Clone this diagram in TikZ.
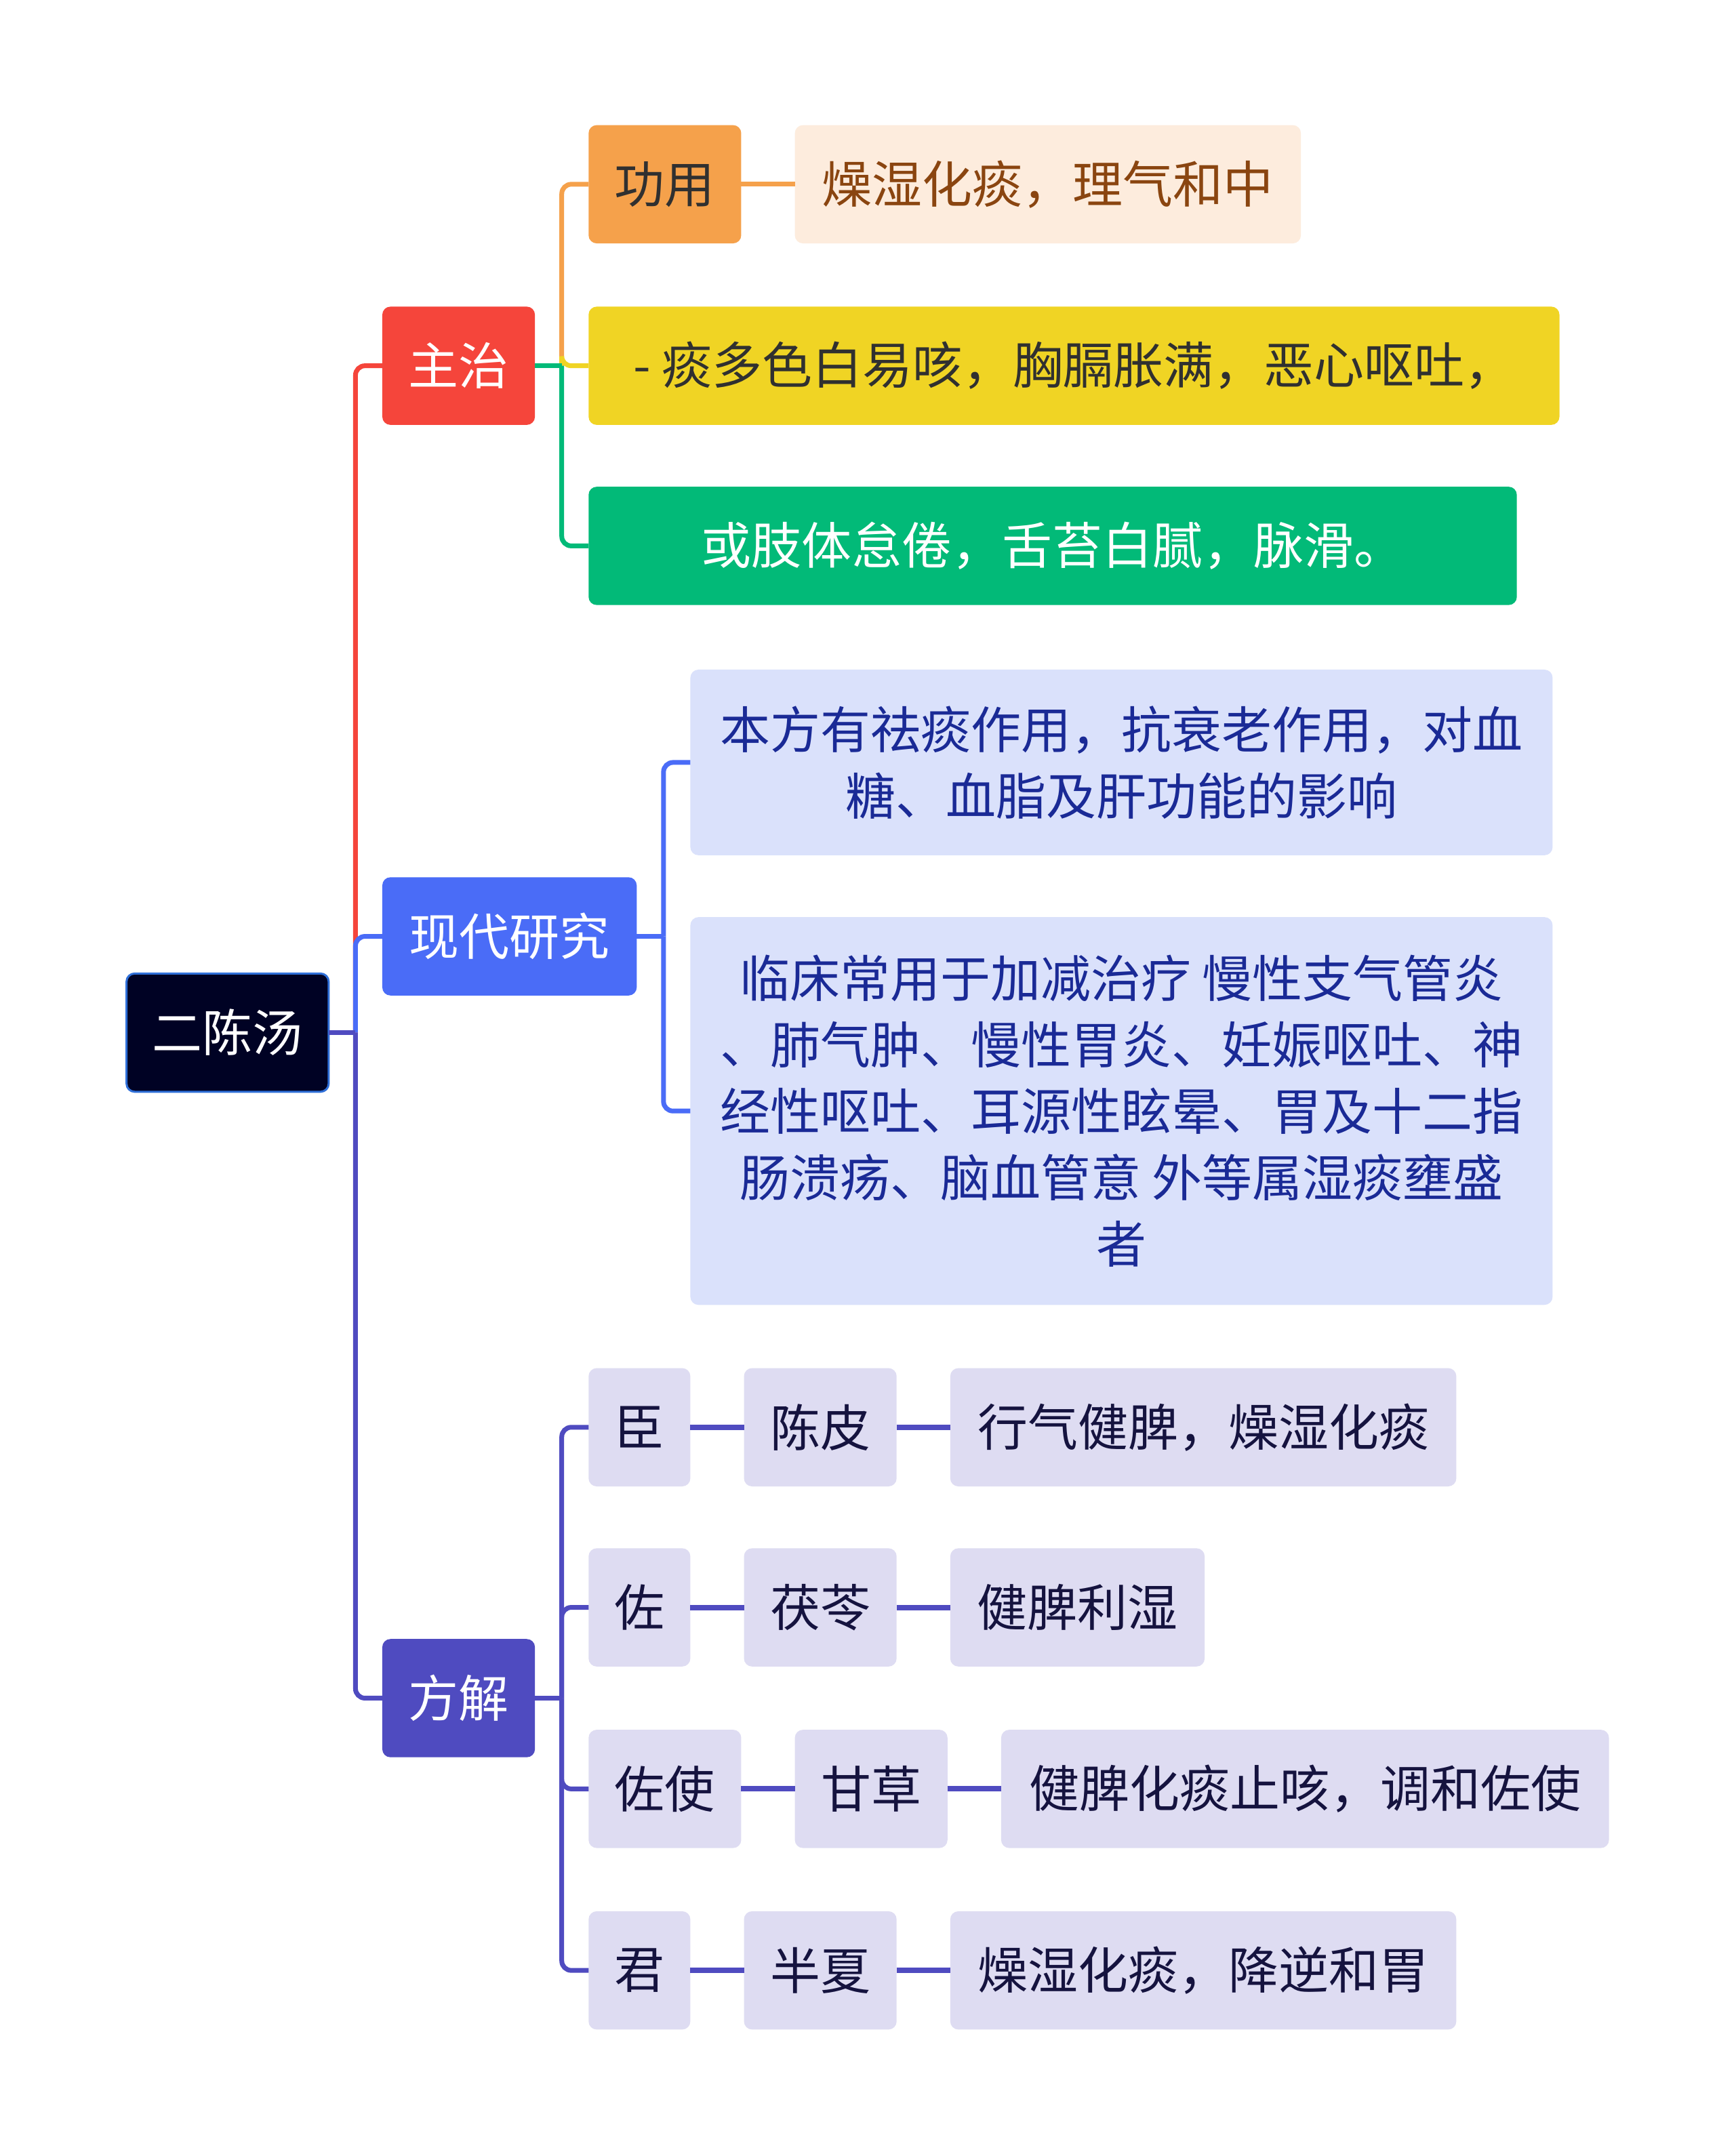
\documentclass[tikz,border=0pt]{standalone}
\usepackage{fontspec}
\newfontfamily\cjk{Noto Sans CJK SC}
\usetikzlibrary{calc}
\definecolor{cRoot}{HTML}{000224}
\definecolor{cRootBorder}{HTML}{2F6FD8}
\definecolor{cRed}{HTML}{F5453B}
\definecolor{cBlue}{HTML}{4A6CF7}
\definecolor{cInd}{HTML}{4F4BC0}
\definecolor{cOrange}{HTML}{F5A14B}
\definecolor{cPeach}{HTML}{FDECDD}
\definecolor{cBrown}{HTML}{8A4510}
\definecolor{cYellow}{HTML}{F0D424}
\definecolor{cGreen}{HTML}{02BA78}
\definecolor{cLBlue}{HTML}{DAE1FB}
\definecolor{cLBlueText}{HTML}{1A2A96}
\definecolor{cLav}{HTML}{DEDCF2}
\definecolor{cLavText}{HTML}{15133F}
\definecolor{cDark}{HTML}{303030}
\tikzset{
  box/.style={rectangle, rounded corners=12pt, inner sep=0pt, outer sep=0pt,
    font=\cjk\fontsize{74}{98}\selectfont, align=center},
  rootbox/.style={box, fill=cRoot, draw=cRootBorder, line width=3pt, text=white},
  redbox/.style={box, fill=cRed, text=white},
  bluebox/.style={box, fill=cBlue, text=white},
  indbox/.style={box, fill=cInd, text=white},
  orangebox/.style={box, fill=cOrange, text=cDark},
  peachbox/.style={box, fill=cPeach, text=cBrown},
  yellowbox/.style={box, fill=cYellow, text=cDark},
  greenbox/.style={box, fill=cGreen, text=white},
  lbluebox/.style={box, fill=cLBlue, text=cLBlueText},
  lavbox/.style={box, fill=cLav, text=cLavText},
  conn/.style={line width=7pt},
  thick conn/.style={line width=8pt},
  elbow/.style={conn, rounded corners=14pt},
}
% \mmbox{style}{name}{x1}{y1}{x2}{y2}{text}
\newcommand\mmbox[7]{%
  \node[#1, minimum width={(#5-#3)*2.0285pt}, minimum height={(#6-#4)*2.0285pt}]
    (#2) at ({(#3+#5)/2},{(#4+#6)/2}) {#7};}
\begin{document}
\begin{tikzpicture}[x=2.0285pt, y=-2.0285pt]
\useasboundingbox (0,0) rectangle (1262,1568);
\fill[white] (0,0) rectangle (1262,1568);

\mmbox{rootbox}{root}{92}{708}{239}{794}{二陈汤}
\mmbox{redbox}{zhuzhi}{278}{223}{389}{309}{主治}
\mmbox{bluebox}{xdyj}{278}{638}{463}{724}{现代研究}
\mmbox{indbox}{fangjie}{278}{1192}{389}{1278}{方解}

\mmbox{orangebox}{gongyong}{428}{91}{539}{177}{功用}
\mmbox{peachbox}{gytxt}{578}{91}{946}{177}{燥湿化痰，理气和中}
\mmbox{yellowbox}{yellow}{428}{223}{1134}{309}{- 痰多色白易咳，胸膈胀满，恶心呕吐，}
\mmbox{greenbox}{green}{428}{354}{1103}{440}{或肢体怠倦，舌苔白腻，脉滑。}

\mmbox{lbluebox}{res1}{502}{487}{1129}{622}{本方有祛痰作用，抗衰老作用，对血\\糖、血脂及肝功能的影响}
\mmbox{lbluebox}{res2}{502}{667}{1129}{949}{临床常用于加减治疗 慢性支气管炎\\、肺气肿、慢性胃炎、妊娠呕吐、神\\经性呕吐、耳源性眩晕、胃及十二指\\肠溃疡、脑血管意 外等属湿痰壅盛\\者}

\mmbox{lavbox}{chen}{428}{995}{502}{1081}{臣}
\mmbox{lavbox}{chenpi}{541}{995}{652}{1081}{陈皮}
\mmbox{lavbox}{chent}{691}{995}{1059}{1081}{行气健脾，燥湿化痰}

\mmbox{lavbox}{zuo}{428}{1126}{502}{1212}{佐}
\mmbox{lavbox}{fuling}{541}{1126}{652}{1212}{茯苓}
\mmbox{lavbox}{zuot}{691}{1126}{876}{1212}{健脾利湿}

\mmbox{lavbox}{zuoshi}{428}{1258}{539}{1344}{佐使}
\mmbox{lavbox}{gancao}{578}{1258}{689}{1344}{甘草}
\mmbox{lavbox}{zuoshit}{728}{1258}{1170}{1344}{健脾化痰止咳，调和佐使}

\mmbox{lavbox}{jun}{428}{1390}{502}{1476}{君}
\mmbox{lavbox}{banxia}{541}{1390}{652}{1476}{半夏}
\mmbox{lavbox}{junt}{691}{1390}{1059}{1476}{燥湿化痰，降逆和胃}

\coordinate (j0) at ($(root.east)+(19.5,0)$);
\coordinate (j1) at ($(zhuzhi.east)+(19.5,0)$);
\coordinate (j2) at ($(xdyj.east)+(19.5,0)$);
\coordinate (j3) at ($(fangjie.east)+(19.5,0)$);

\draw[elbow, cRed] (j0) |- (zhuzhi.west);
\draw[elbow, cBlue] (j0) |- (xdyj.west);
\draw[elbow, cInd] (j0) |- (fangjie.west);
\draw[conn, cInd] (root.east) -- (j0);

\draw[elbow, cOrange] (j1) |- (gongyong.west);
\draw[elbow, cYellow] (j1) |- (yellow.west);
\draw[elbow, cGreen] (j1) |- (green.west);
\draw[conn, cGreen] (zhuzhi.east) -- (j1);
\draw[conn, cOrange] (gongyong.east) -- (gytxt.west);

\draw[elbow, cBlue] (j2) |- (res1.west);
\draw[elbow, cBlue] (j2) |- (res2.west);
\draw[conn, cBlue] (xdyj.east) -- (j2);

\draw[elbow, cInd] (j3) |- (chen.west);
\draw[elbow, cInd] (j3) |- (zuo.west);
\draw[elbow, cInd] (j3) |- (zuoshi.west);
\draw[elbow, cInd] (j3) |- (jun.west);
\draw[conn, cInd] (fangjie.east) -- (j3);

\draw[thick conn, cInd] (chen.east) -- (chenpi.west);
\draw[thick conn, cInd] (chenpi.east) -- (chent.west);
\draw[thick conn, cInd] (zuo.east) -- (fuling.west);
\draw[thick conn, cInd] (fuling.east) -- (zuot.west);
\draw[thick conn, cInd] (zuoshi.east) -- (gancao.west);
\draw[thick conn, cInd] (gancao.east) -- (zuoshit.west);
\draw[thick conn, cInd] (jun.east) -- (banxia.west);
\draw[thick conn, cInd] (banxia.east) -- (junt.west);
\end{tikzpicture}
\end{document}
